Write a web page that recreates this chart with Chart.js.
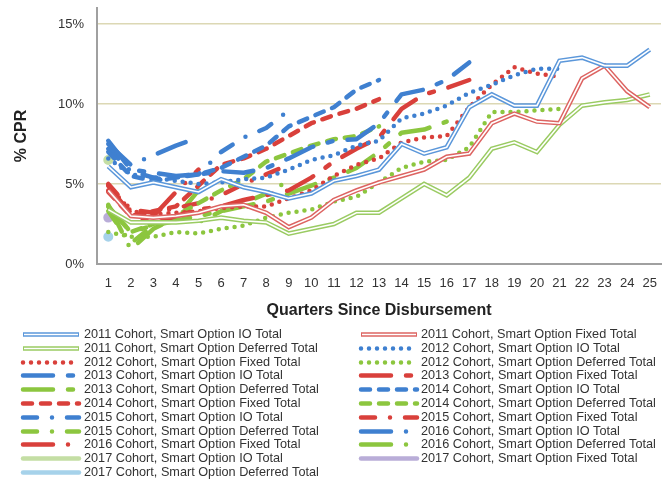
<!DOCTYPE html>
<html>
<head>
<meta charset="utf-8">
<script src="https://cdn.jsdelivr.net/npm/chart.js@4.4.1/dist/chart.umd.min.js"></script>
<style>
  html, body { margin: 0; padding: 0; background: #fff; }
  #wrap { width: 668px; height: 484px; }
</style>
</head>
<body>
<div id="wrap"><canvas id="c" width="668" height="484"></canvas></div>
<script>
// ---- data ----
const quarters = ['1','2','3','4','5','6','7','8','9','10','11','12','13','14','15','16','17','18','19','20','21','22','23','24','25'];
const yTicks = [0, 5, 10, 15];

const io2011    = [6.1,4.8,5.1,4.8,4.5,5.3,4.8,4.5,4.1,4.4,5.2,5.5,5.9,7.5,6.9,7.3,9.8,10.6,9.9,9.9,12.7,12.9,12.4,12.4,13.4];
const fixed2011 = [4.6,3.0,2.9,3.0,3.2,3.6,3.7,3.2,2.3,2.9,4.0,4.6,5.1,5.5,5.9,6.7,6.9,8.8,9.4,8.9,8.8,11.6,12.4,10.8,9.8];
const def2011   = [3.4,2.6,2.6,2.6,2.7,2.9,2.7,2.6,1.9,2.2,2.5,3.2,3.2,4.1,5.0,4.3,5.4,7.2,7.6,7.0,8.7,9.9,10.1,10.25,10.6];

const io2012    = [6.6,5.6,5.4,5.2,5.0,5.1,5.3,5.4,5.9,6.5,6.8,7.4,7.7,9.1,9.4,9.9,10.7,11.2,11.8,12.2,12.2];
const fixed2012 = [4.9,3.3,3.1,3.2,3.3,3.5,3.6,3.6,4.1,4.6,5.5,6.2,6.6,7.6,7.9,8.0,9.8,11.2,12.3,11.9,11.7];
const def2012   = [2.0,1.7,1.7,2.0,1.9,2.2,2.4,2.9,3.2,3.4,3.9,4.2,5.1,6.0,6.4,6.5,7.3,9.5,9.5,9.6,9.7];

const io2013    = [7.7,5.9,5.7,5.5,5.6,5.8,5.7,6.0,6.6,7.3,7.7,7.8,8.8,10.6,10.9,11.5,12.6];
const fixed2013 = [4.6,3.2,2.5,3.0,3.4,3.6,4.0,4.3,4.6,5.4,6.4,7.2,7.9,9.7,10.6,11.0,11.5];
const def2013   = [3.6,2.0,2.4,2.7,3.0,3.3,3.6,3.9,4.4,4.9,5.4,6.0,7.0,8.2,8.4,8.9];

const io2014    = [7.0,5.5,5.2,5.4,5.6,6.0,6.7,7.4,8.6,9.2,9.8,10.9,11.5];
const fixed2014 = [4.5,3.0,3.3,3.6,4.9,6.2,6.6,7.2,8.0,8.8,9.3,9.7,10.3];
const def2014   = [3.6,2.0,2.5,3.0,3.8,4.6,5.3,6.4,6.9,7.4,7.8,8.0,8.6];

const io2015    = [7.2,5.8,5.4,5.5,5.6,7.0,7.9,8.5,9.6];
const fixed2015 = [5.0,3.4,3.2,3.5,3.8,4.3,5.0,5.6,6.2];
const def2015   = [3.3,1.3,2.4,2.8,2.6,3.3,3.8,4.4,5.2];

const io2016    = [7.5,6.2,6.8,7.4,7.9];
const fixed2016 = [4.9,3.1,3.0,4.5,5.9];
const def2016   = [3.7,0.9,2.2,2.9,4.6];

const io2017    = [6.5];
const fixed2017 = [2.9];
const def2017   = [1.7];

// ---- styles ----
const BLUE = '#3f80d0', RED = '#d9403b', GREEN = '#8cc63f';
const BLUE_D = '#5b97da', RED_D = '#dd6462', GREEN_D = '#9acb62';
const DOT = [0, 8];
const LONG_SHORT = [30, 15, 5, 15];
const MEDIUM = [9, 9];
const DASH_DOT = [14, 15, 0, 15];
const LONG_DOT = [30, 15, 0, 15];
const FONT = '"Liberation Sans", Arial, sans-serif';

function ds(label, data, color, dash, extra) {
  return Object.assign({
    label, data,
    borderColor: color, backgroundColor: color,
    borderWidth: 4.5, borderDash: dash || [],
    borderCapStyle: 'round', borderJoinStyle: 'round',
    pointRadius: 0, pointHoverRadius: 0, tension: 0, fill: false
  }, extra || {});
}
const dbl = { double: true, borderWidth: 4.6, borderCapStyle: 'butt', borderJoinStyle: 'miter' };
const single = (c) => ({ pointRadius: 3, pointBackgroundColor: c, pointBorderColor: c, borderWidth: 4 });

const datasets = [
  ds('2011 Cohort, Smart Option IO Total', io2011, BLUE_D, [], dbl),
  ds('2011 Cohort, Smart Option Fixed Total', fixed2011, RED_D, [], dbl),
  ds('2011 Cohort, Smart Option Deferred Total', def2011, GREEN_D, [], dbl),
  ds('2012 Cohort, Smart Option IO Total', io2012, BLUE, DOT),
  ds('2012 Cohort, Smart Option Fixed Total', fixed2012, RED, DOT),
  ds('2012 Cohort, Smart Option Deferred Total', def2012, GREEN, DOT),
  ds('2013 Cohort, Smart Option IO Total', io2013, BLUE, LONG_SHORT),
  ds('2013 Cohort, Smart Option Fixed Total', fixed2013, RED, LONG_SHORT),
  ds('2013 Cohort, Smart Option Deferred Total', def2013, GREEN, LONG_SHORT),
  ds('2014 Cohort, Smart Option IO Total', io2014, BLUE, MEDIUM),
  ds('2014 Cohort, Smart Option Fixed Total', fixed2014, RED, MEDIUM),
  ds('2014 Cohort, Smart Option Deferred Total', def2014, GREEN, MEDIUM),
  ds('2015 Cohort, Smart Option IO Total', io2015, BLUE, DASH_DOT),
  ds('2015 Cohort, Smart Option Fixed Total', fixed2015, RED, DASH_DOT),
  ds('2015 Cohort, Smart Option Deferred Total', def2015, GREEN, DASH_DOT),
  ds('2016 Cohort, Smart Option IO Total', io2016, BLUE, LONG_DOT),
  ds('2016 Cohort, Smart Option Fixed Total', fixed2016, RED, LONG_DOT),
  ds('2016 Cohort, Smart Option Deferred Total', def2016, GREEN, LONG_DOT),
  ds('2017 Cohort, Smart Option IO Total', io2017, '#c4dea4', [], single('#c4dea4')),
  ds('2017 Cohort, Smart Option Fixed Total', fixed2017, '#b9add8', [], single('#b9add8')),
  ds('2017 Cohort, Smart Option Deferred Total', def2017, '#a6d2ea', [], single('#a6d2ea'))
];

// white core for the double-line 2011 series
const doubleLine = {
  id: 'doubleLine',
  afterDatasetDraw(chart, args) {
    const d = chart.data.datasets[args.index];
    if (!d.double) return;
    const pts = args.meta.data;
    const ctx = chart.ctx;
    ctx.save();
    ctx.beginPath();
    pts.forEach((p, j) => j ? ctx.lineTo(p.x, p.y) : ctx.moveTo(p.x, p.y));
    ctx.strokeStyle = '#ffffff';
    ctx.lineWidth = 1.6;
    ctx.lineJoin = 'miter';
    ctx.stroke();
    ctx.restore();
  }
};

// two-column legend below the chart
const colLegend = {
  id: 'colLegend',
  afterDraw(chart) {
    const ctx = chart.ctx;
    ctx.save();
    ctx.font = '12.7px ' + FONT;
    ctx.textBaseline = 'middle';
    chart.data.datasets.forEach((d, i) => {
      const col = i % 2, row = Math.floor(i / 2);
      const x0 = col ? 361 : 23, len = 56;
      const y = Math.round(334 + row * 13.8) + 0.5;
      ctx.beginPath();
      ctx.setLineDash(d.borderDash || []);
      ctx.lineCap = d.double ? 'butt' : 'round';
      ctx.lineWidth = 4.5;
      ctx.strokeStyle = d.borderColor;
      ctx.moveTo(x0, y);
      ctx.lineTo(x0 + len, y);
      ctx.stroke();
      if (d.double) {
        ctx.beginPath();
        ctx.setLineDash([]);
        ctx.lineWidth = 1.6;
        ctx.strokeStyle = '#fff';
        ctx.moveTo(x0 + 1, y);
        ctx.lineTo(x0 + len - 1, y);
        ctx.stroke();
      }
      ctx.setLineDash([]);
      ctx.fillStyle = '#333';
      ctx.fillText(d.label, col ? 421 : 84, y);
    });
    ctx.restore();
  }
};

new Chart(document.getElementById('c'), {
  type: 'line',
  data: { labels: quarters, datasets },
  plugins: [doubleLine, colLegend],
  options: {
    responsive: false,
    devicePixelRatio: 1,
    animation: false,
    events: [],
    layout: { padding: { top: 8, right: 1, left: 0, bottom: 164 } },
    plugins: { legend: { display: false }, tooltip: { enabled: false } },
    scales: {
      x: {
        offset: true,
        afterFit: (s) => { s.height = 56; s.paddingLeft = 0; s.paddingRight = 0; },
        grid: { display: false, drawTicks: false },
        border: { display: true, color: '#a0a0a0', width: 2 },
        ticks: { autoSkip: false, maxRotation: 0, padding: 12, color: '#333',
                 font: { family: FONT, size: 13 } },
        title: { display: true, text: 'Quarters Since Disbursement', color: '#222',
                 padding: { top: 0, bottom: 0 },
                 font: { family: FONT, size: 16, weight: 'bold' } }
      },
      y: {
        min: 0, max: 16,
        afterFit: (s) => { s.width = 97; s.paddingTop = 0; s.paddingBottom = 0; },
        afterBuildTicks: (s) => { s.ticks = yTicks.map(v => ({ value: v })); },
        grid: { color: (c) => c.tick && c.tick.value === 0 ? 'rgba(0,0,0,0)' : '#dcd8b4', lineWidth: 1.5, drawTicks: false },
        border: { display: true, color: '#a0a0a0', width: 2 },
        ticks: { padding: 13, color: '#333', callback: (v) => v + '%',
                 font: { family: FONT, size: 13 } },
        title: { display: true, text: '% CPR', color: '#222', padding: { top: 12, bottom: 0 },
                 font: { family: FONT, size: 16, weight: 'bold' } }
      }
    }
  }
});
</script>
</body>
</html>
